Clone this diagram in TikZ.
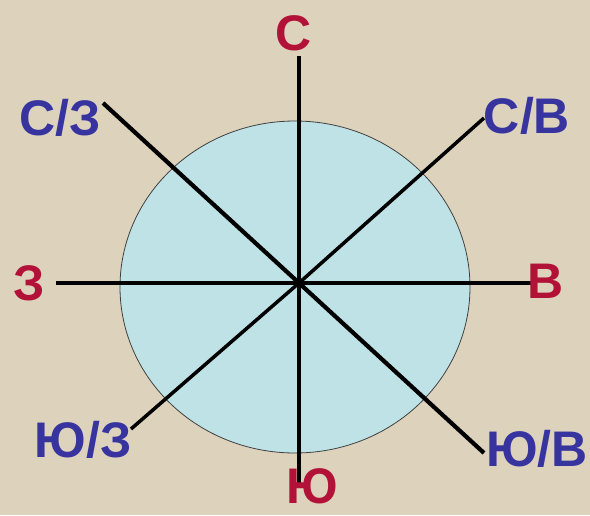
\documentclass[tikz,border=0pt]{standalone}
\usepackage{fontspec}
\setmainfont{Liberation Sans}
\usetikzlibrary{positioning}

\definecolor{bgbeige}{RGB}{221,210,188}
\definecolor{discblue}{RGB}{190,226,230}
\definecolor{pointred}{RGB}{178,18,55}
\definecolor{pointblue}{RGB}{55,52,160}

\begin{document}
\begin{tikzpicture}[x=1pt,y=-1pt,
  ray/.style={line width=4.2pt,black},
  mainpt/.style={text=pointred,inner sep=0pt,font=\fontsize{50}{50}\selectfont\bfseries},
  midpt/.style={text=pointblue,inner sep=0pt,font=\fontsize{50}{50}\selectfont\bfseries}]
% background and disc
\fill[bgbeige] (0,0) rectangle (590,515);
\useasboundingbox (0,0) rectangle (590,515);
\filldraw[fill=discblue,draw=black!75,line width=0.8pt] (295,287) ellipse [x radius=175,y radius=166];

% centre and ray ends
\coordinate (o) at (299,283);
\coordinate (n) at (299,56);
\coordinate (s) at (299,488);
\coordinate (w) at (56,283);
\coordinate (e) at (531,283);
\coordinate (nw) at (103,103);
\coordinate (se) at (484,453);
\coordinate (ne) at (484,118);
\coordinate (sw) at (131,429);

\draw[ray] (n) -- (s);
\draw[ray] (w) -- (e);
\draw[ray] (nw) -- (o) -- (se);
\draw[ray,line width=3.5pt] (ne) -- (o) -- (sw);

% labels
\node[mainpt] (lblN) at (294,33) {С};
\node[mainpt] (lblS) at (312,486) {Ю};
\node[mainpt] (lblW) at (29,283) {З};
\node[mainpt] (lblE) at (546,281) {В};

\node[midpt] (lblNW) at (60,118) {С/З};
\node[midpt] (lblNE) at (527,116) {С/В};
\node[midpt] (lblSW) at (83,440) {Ю/З};
\node[midpt] (lblSE) at (537,449) {Ю/В};
\end{tikzpicture}
\end{document}
